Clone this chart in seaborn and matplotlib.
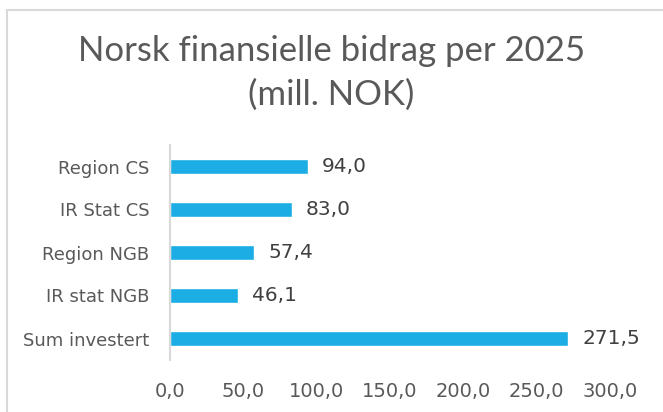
import matplotlib
matplotlib.use("Agg")
import matplotlib.pyplot as plt
import seaborn as sns
import pandas as pd
from matplotlib.patches import Rectangle

categories = ["Region CS", "IR Stat CS", "Region NGB", "IR stat NGB", "Sum investert"]
values = [94.0, 83.0, 57.4, 46.1, 271.5]
xticks = [0, 50, 100, 150, 200, 250, 300]
title = "Norsk finansielle bidrag per 2025\n(mill. NOK)"

df = pd.DataFrame({"cat": categories, "val": values})

sns.set_style("white")
plt.rcParams["font.family"] = ["DejaVu Sans"]

fig = plt.figure(figsize=(6.63, 4.12), dpi=100)
ax = fig.add_axes([170/663, 1-360/412, 440/663, 215/412])

sns.barplot(data=df, x="val", y="cat", orient="h", color="#1CADE4",
            saturation=1, width=0.35, ax=ax)

for i, v in enumerate(values):
    ax.annotate(f"{v:.1f}".replace(".", ","), (v, i), xytext=(10, 0),
                textcoords="offset points", va="center", ha="left",
                fontsize=14.5, color="#404040")

ax.set_xlim(0, 300)
ax.set_ylim(4.5, -0.5)
ax.set_xticks(xticks)
ax.set_xticklabels([f"{t:.1f}".replace(".", ",") for t in xticks])
ax.set_xlabel("")
ax.set_ylabel("")
ax.tick_params(axis="x", length=0, pad=16, labelsize=14, labelcolor="#595959")
ax.tick_params(axis="y", length=0, pad=15, labelsize=13, labelcolor="#595959")
for s in ["top", "right", "bottom"]:
    ax.spines[s].set_visible(False)
ax.spines["left"].set_color("#D9D9D9")
ax.spines["left"].set_linewidth(1.5)

fig.text(0.5, 1-73/412, title, ha="center", va="center", fontsize=25,
         color="#595959", linespacing=1.45, family="Lato")

fig.patches.append(Rectangle((7/663, -0.1), 1.2, 1.1-10/412, transform=fig.transFigure,
                             fill=False, edgecolor="#D9D9D9", linewidth=1.5))

fig.savefig("out.png", dpi=100)
